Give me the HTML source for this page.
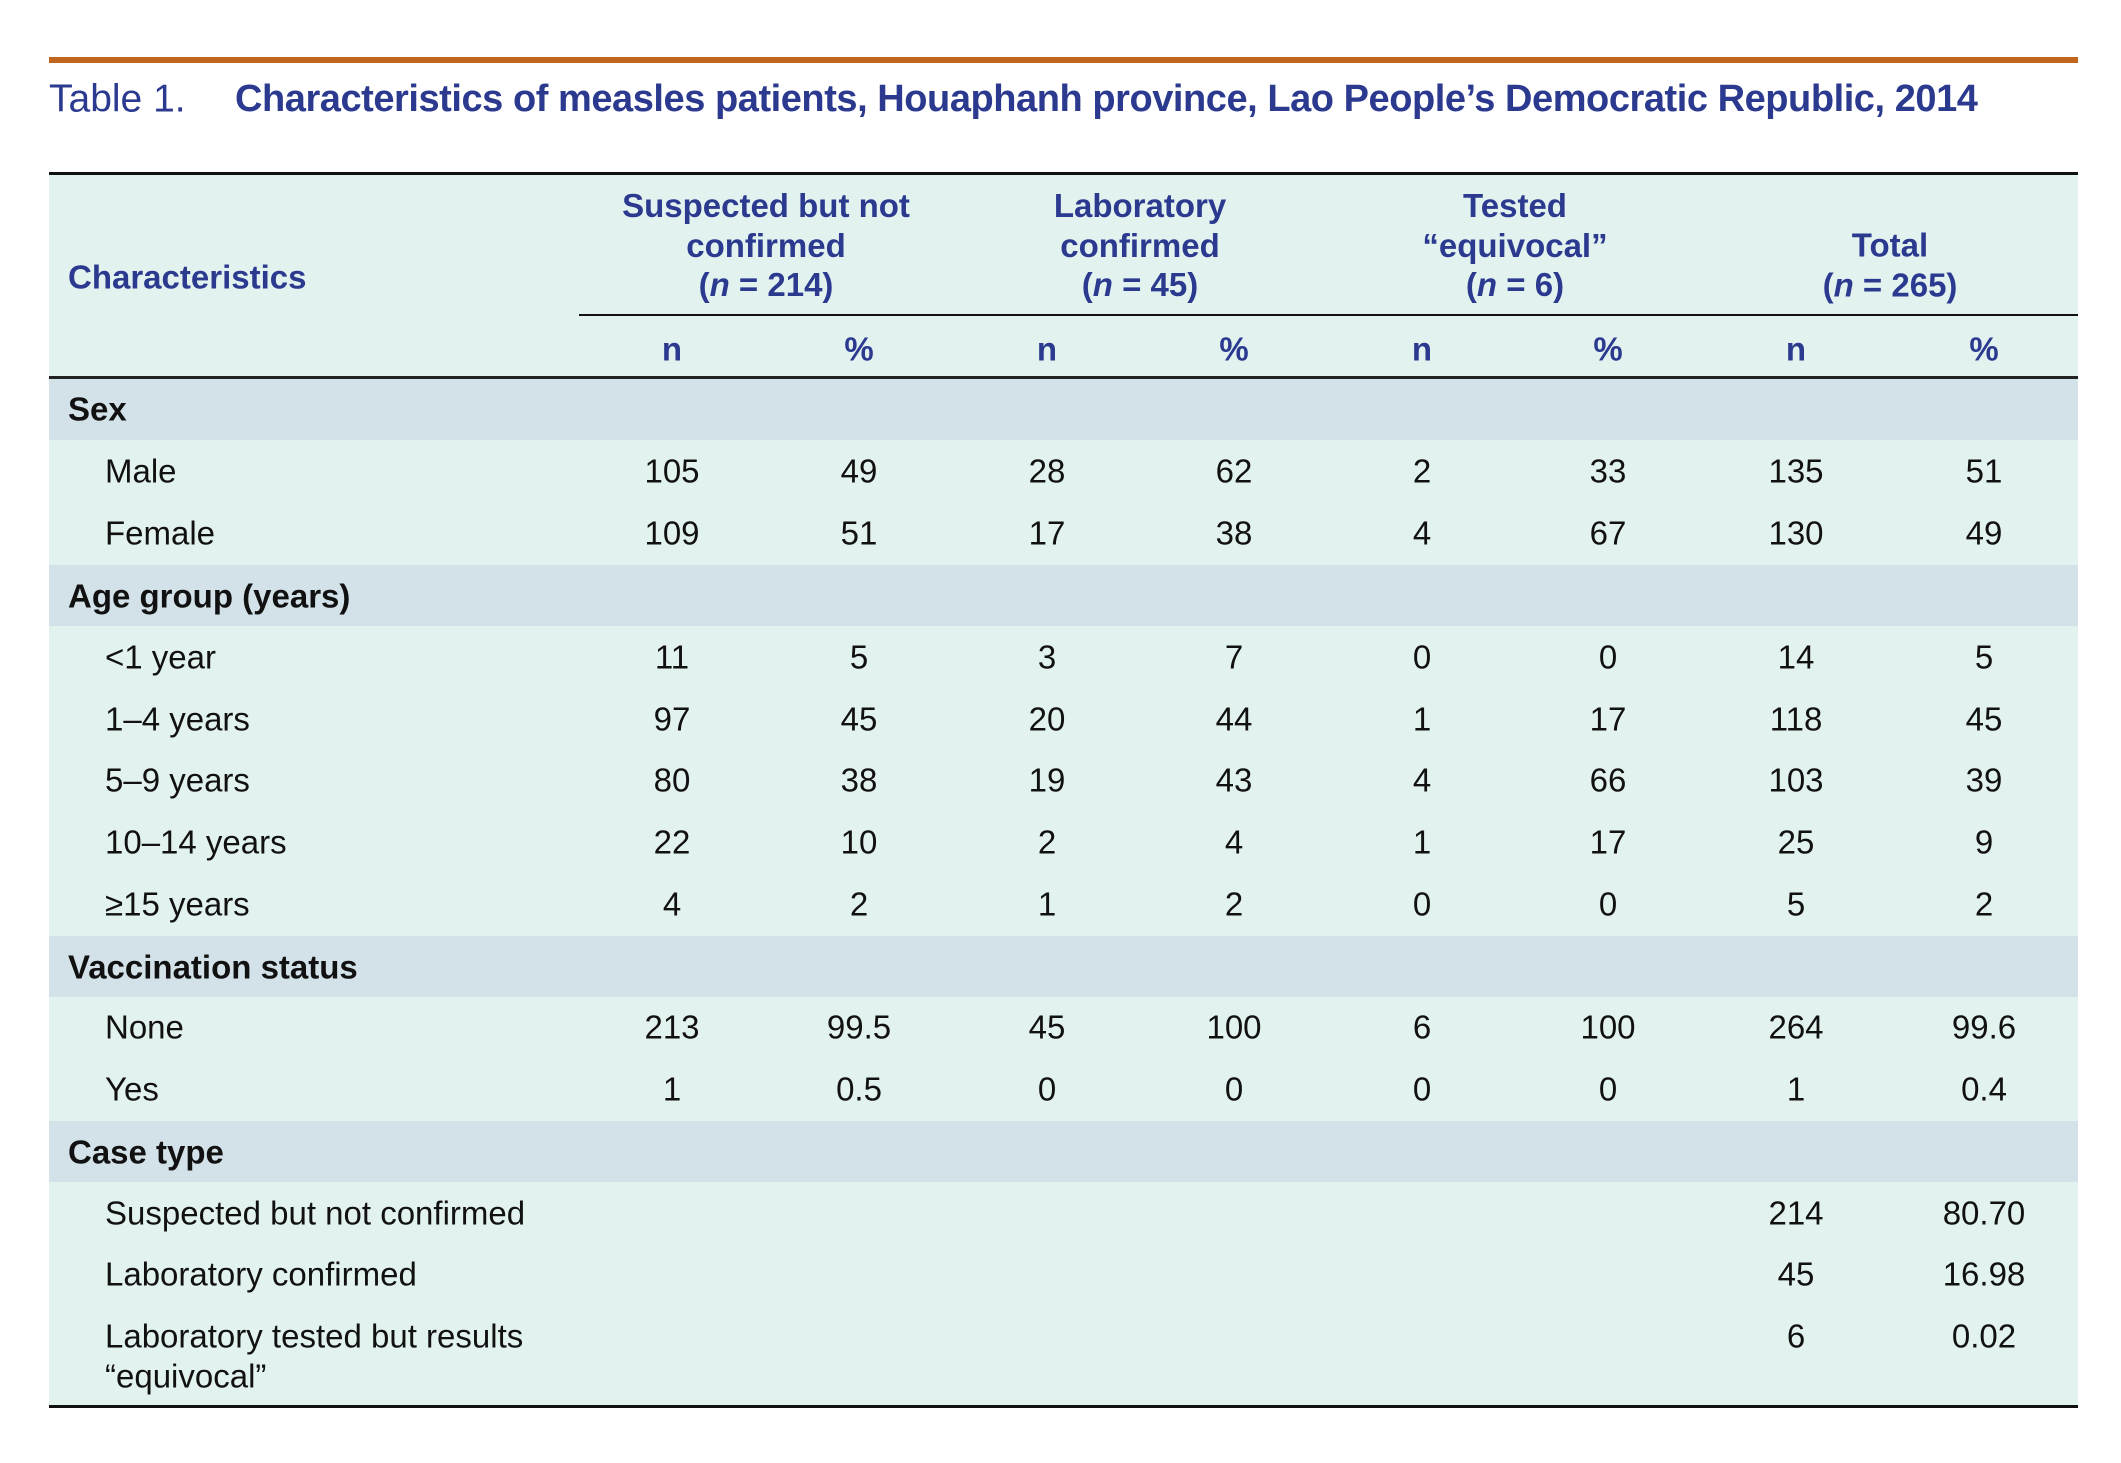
<!DOCTYPE html>
<html><head><meta charset="utf-8"><style>
body{margin:0;width:2121px;height:1463px;background:#fff;position:relative;overflow:hidden;font-family:"Liberation Sans",Arial,sans-serif;}
.a{position:absolute}
.c{position:absolute;transform:translate(-50%,-50%);white-space:nowrap;font-size:33px;line-height:1;color:#111}
.l{position:absolute;transform:translateY(-50%);white-space:nowrap;font-size:33px;line-height:1;color:#111}
.h{color:#2b3a8f;font-weight:bold;text-align:center;line-height:39.5px;font-size:33px}
.b{font-weight:bold}
</style></head><body>
<div class="a" style="left:49px;top:57px;width:2029px;height:6px;background:#c0661e"></div>
<div class="l" style="left:49px;top:99px;font-size:39px;color:#2b3a8f;font-weight:300">Table 1.</div>
<div class="l" style="left:235px;top:99px;font-size:38px;color:#2b3a8f;font-weight:bold;letter-spacing:-0.45px">Characteristics of measles patients, Houaphanh province, Lao People’s Democratic Republic, 2014</div>

<div class="a" style="left:49px;top:173px;width:2029px;height:1234px;background:#e2f2ef"></div>
<div class="a" style="left:49px;top:172px;width:2029px;height:3px;background:#111"></div>
<div class="a" style="left:579px;top:314px;width:1499px;height:2px;background:#111"></div>
<div class="a" style="left:49px;top:376px;width:2029px;height:3px;background:#222"></div>
<div class="a" style="left:49px;top:379px;width:2029px;height:61px;background:#d3e2e8"></div>
<div class="a" style="left:49px;top:565px;width:2029px;height:61px;background:#d3e2e8"></div>
<div class="a" style="left:49px;top:936px;width:2029px;height:61px;background:#d3e2e8"></div>
<div class="a" style="left:49px;top:1121px;width:2029px;height:61px;background:#d3e2e8"></div>
<div class="a" style="left:49px;top:1405px;width:2029px;height:3px;background:#111"></div>

<div class="l h" style="left:68px;top:277px">Characteristics</div>
<div class="c h" style="left:766px;top:245px">Suspected but not<br>confirmed<br>(<i>n</i> = 214)</div>
<div class="c h" style="left:1140px;top:245px">Laboratory<br>confirmed<br>(<i>n</i> = 45)</div>
<div class="c h" style="left:1515px;top:245px">Tested<br>“equivocal”<br>(<i>n</i> = 6)</div>
<div class="c h" style="left:1890px;top:265px">Total<br>(<i>n</i> = 265)</div>
<div class="c h" style="left:672px;top:349px">n</div><div class="c h" style="left:859px;top:349px">%</div>
<div class="c h" style="left:1047px;top:349px">n</div><div class="c h" style="left:1234px;top:349px">%</div>
<div class="c h" style="left:1422px;top:349px">n</div><div class="c h" style="left:1608px;top:349px">%</div>
<div class="c h" style="left:1796px;top:349px">n</div><div class="c h" style="left:1984px;top:349px">%</div>

<div class="l b" style="left:68px;top:409px">Sex</div>
<div class="l b" style="left:68px;top:596px">Age group (years)</div>
<div class="l b" style="left:68px;top:967px">Vaccination status</div>
<div class="l b" style="left:68px;top:1152px">Case type</div>

<div class="l" style="left:105px;top:471px">Male</div>
<div class="c" style="left:672px;top:471px">105</div><div class="c" style="left:859px;top:471px">49</div><div class="c" style="left:1047px;top:471px">28</div><div class="c" style="left:1234px;top:471px">62</div><div class="c" style="left:1422px;top:471px">2</div><div class="c" style="left:1608px;top:471px">33</div><div class="c" style="left:1796px;top:471px">135</div><div class="c" style="left:1984px;top:471px">51</div>
<div class="l" style="left:105px;top:533px">Female</div>
<div class="c" style="left:672px;top:533px">109</div><div class="c" style="left:859px;top:533px">51</div><div class="c" style="left:1047px;top:533px">17</div><div class="c" style="left:1234px;top:533px">38</div><div class="c" style="left:1422px;top:533px">4</div><div class="c" style="left:1608px;top:533px">67</div><div class="c" style="left:1796px;top:533px">130</div><div class="c" style="left:1984px;top:533px">49</div>

<div class="l" style="left:105px;top:657px">&lt;1 year</div>
<div class="c" style="left:672px;top:657px">11</div><div class="c" style="left:859px;top:657px">5</div><div class="c" style="left:1047px;top:657px">3</div><div class="c" style="left:1234px;top:657px">7</div><div class="c" style="left:1422px;top:657px">0</div><div class="c" style="left:1608px;top:657px">0</div><div class="c" style="left:1796px;top:657px">14</div><div class="c" style="left:1984px;top:657px">5</div>
<div class="l" style="left:105px;top:719px">1–4 years</div>
<div class="c" style="left:672px;top:719px">97</div><div class="c" style="left:859px;top:719px">45</div><div class="c" style="left:1047px;top:719px">20</div><div class="c" style="left:1234px;top:719px">44</div><div class="c" style="left:1422px;top:719px">1</div><div class="c" style="left:1608px;top:719px">17</div><div class="c" style="left:1796px;top:719px">118</div><div class="c" style="left:1984px;top:719px">45</div>
<div class="l" style="left:105px;top:780px">5–9 years</div>
<div class="c" style="left:672px;top:780px">80</div><div class="c" style="left:859px;top:780px">38</div><div class="c" style="left:1047px;top:780px">19</div><div class="c" style="left:1234px;top:780px">43</div><div class="c" style="left:1422px;top:780px">4</div><div class="c" style="left:1608px;top:780px">66</div><div class="c" style="left:1796px;top:780px">103</div><div class="c" style="left:1984px;top:780px">39</div>
<div class="l" style="left:105px;top:842px">10–14 years</div>
<div class="c" style="left:672px;top:842px">22</div><div class="c" style="left:859px;top:842px">10</div><div class="c" style="left:1047px;top:842px">2</div><div class="c" style="left:1234px;top:842px">4</div><div class="c" style="left:1422px;top:842px">1</div><div class="c" style="left:1608px;top:842px">17</div><div class="c" style="left:1796px;top:842px">25</div><div class="c" style="left:1984px;top:842px">9</div>
<div class="l" style="left:105px;top:904px">≥15 years</div>
<div class="c" style="left:672px;top:904px">4</div><div class="c" style="left:859px;top:904px">2</div><div class="c" style="left:1047px;top:904px">1</div><div class="c" style="left:1234px;top:904px">2</div><div class="c" style="left:1422px;top:904px">0</div><div class="c" style="left:1608px;top:904px">0</div><div class="c" style="left:1796px;top:904px">5</div><div class="c" style="left:1984px;top:904px">2</div>

<div class="l" style="left:105px;top:1027px">None</div>
<div class="c" style="left:672px;top:1027px">213</div><div class="c" style="left:859px;top:1027px">99.5</div><div class="c" style="left:1047px;top:1027px">45</div><div class="c" style="left:1234px;top:1027px">100</div><div class="c" style="left:1422px;top:1027px">6</div><div class="c" style="left:1608px;top:1027px">100</div><div class="c" style="left:1796px;top:1027px">264</div><div class="c" style="left:1984px;top:1027px">99.6</div>
<div class="l" style="left:105px;top:1089px">Yes</div>
<div class="c" style="left:672px;top:1089px">1</div><div class="c" style="left:859px;top:1089px">0.5</div><div class="c" style="left:1047px;top:1089px">0</div><div class="c" style="left:1234px;top:1089px">0</div><div class="c" style="left:1422px;top:1089px">0</div><div class="c" style="left:1608px;top:1089px">0</div><div class="c" style="left:1796px;top:1089px">1</div><div class="c" style="left:1984px;top:1089px">0.4</div>

<div class="l" style="left:105px;top:1213px">Suspected but not confirmed</div>
<div class="c" style="left:1796px;top:1213px">214</div><div class="c" style="left:1984px;top:1213px">80.70</div>
<div class="l" style="left:105px;top:1274px">Laboratory confirmed</div>
<div class="c" style="left:1796px;top:1274px">45</div><div class="c" style="left:1984px;top:1274px">16.98</div>
<div class="l" style="left:105px;top:1336px">Laboratory tested but results</div>
<div class="l" style="left:105px;top:1376px">“equivocal”</div>
<div class="c" style="left:1796px;top:1336px">6</div><div class="c" style="left:1984px;top:1336px">0.02</div>
</body></html>
